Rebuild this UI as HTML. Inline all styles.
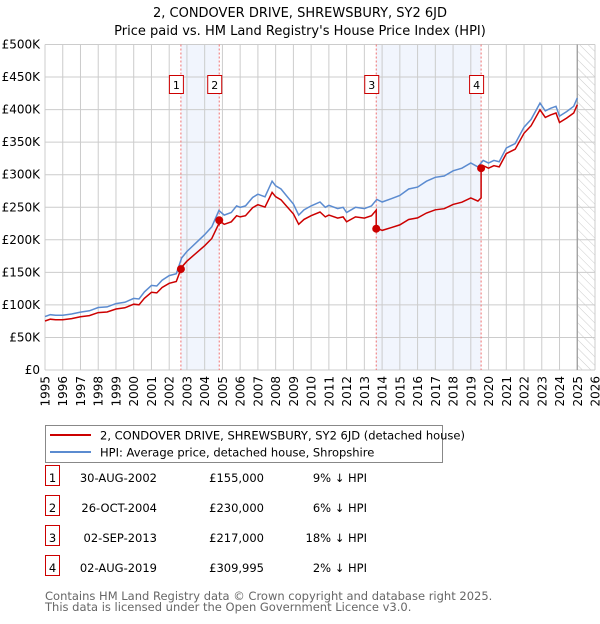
<!DOCTYPE html>
<html><head><meta charset="utf-8"><style>
body{margin:0;background:#fff;font-family:"DejaVu Sans","Liberation Sans",sans-serif;}
svg text{font-family:"DejaVu Sans","Liberation Sans",sans-serif;}
</style></head><body>
<svg id="c" width="600" height="620" viewBox="0 0 600 620" xmlns="http://www.w3.org/2000/svg">
<defs><pattern id="hatch" width="6" height="6" patternUnits="userSpaceOnUse" patternTransform="rotate(-45)"><line x1="0" y1="0" x2="0" y2="6" stroke="#ccc" stroke-width="1"/></pattern></defs>
<text x="300" y="17" text-anchor="middle" font-size="13">2, CONDOVER DRIVE, SHREWSBURY, SY2 6JD</text>
<text x="300" y="35" text-anchor="middle" font-size="13">Price paid vs. HM Land Registry's House Price Index (HPI)</text>
<g id="plot"></g>
<g>
<rect x="45.5" y="425.5" width="397" height="37" fill="#fff" stroke="#888"/>
<line x1="50" y1="435" x2="91" y2="435" stroke="#cc0000" stroke-width="2"/>
<text x="100" y="439.5" font-size="11.5">2, CONDOVER DRIVE, SHREWSBURY, SY2 6JD (detached house)</text>
<line x1="50" y1="452" x2="91" y2="452" stroke="#5b8bd0" stroke-width="2"/>
<text x="100" y="456.5" font-size="11.5">HPI: Average price, detached house, Shropshire</text>
</g>
<g id="table" font-size="11.5"></g>
<text x="45" y="600" font-size="11.5" fill="#666">Contains HM Land Registry data © Crown copyright and database right 2025.</text>
<text x="45" y="611" font-size="11.5" fill="#666">This data is licensed under the Open Government Licence v3.0.</text>
</svg>
<script>
const hpiYears=[1995,1995.3,1995.6,1996,1996.5,1997,1997.5,1998,1998.5,1999,1999.5,2000,2000.3,2000.6,2001,2001.3,2001.6,2002,2002.4,2002.7,2003,2003.5,2004,2004.4,2004.8,2005.1,2005.5,2005.8,2006,2006.3,2006.7,2007,2007.4,2007.8,2008,2008.3,2008.6,2009,2009.3,2009.6,2010,2010.5,2010.8,2011,2011.5,2011.8,2012,2012.5,2013,2013.4,2013.7,2014,2014.5,2015,2015.5,2016,2016.5,2017,2017.5,2018,2018.5,2019,2019.4,2019.7,2020,2020.3,2020.6,2021,2021.5,2022,2022.4,2022.9,2023.2,2023.5,2023.8,2024,2024.4,2024.8,2025];
const hpiValues=[82,85,84,84,86,89,91,96,97,102,104,110,109,120,130,129,138,145,148,172,182,195,208,220,245,238,242,252,250,252,265,270,266,290,283,278,268,255,238,246,252,258,250,253,248,250,242,250,248,252,262,258,263,268,278,281,290,296,298,306,310,318,312,322,318,322,320,341,348,373,385,410,398,402,405,390,397,405,418];
const saleLabels=["1","2","3","4"];
const saleYears=[2002.66,2004.82,2013.67,2019.58];
const salePrices=[155000,230000,217000,309995];
const saleDates=["30-AUG-2002","26-OCT-2004","02-SEP-2013","02-AUG-2019"];
const salePriceText=["£155,000","£230,000","£217,000","£309,995"];
const saleDiffText=["9% ↓ HPI","6% ↓ HPI","18% ↓ HPI","2% ↓ HPI"];
const yTicks=[0,50,100,150,200,250,300,350,400,450,500];
const yTickLabels=["£0","£50K","£100K","£150K","£200K","£250K","£300K","£350K","£400K","£450K","£500K"];
const xTicks=[1995,1996,1997,1998,1999,2000,2001,2002,2003,2004,2005,2006,2007,2008,2009,2010,2011,2012,2013,2014,2015,2016,2017,2018,2019,2020,2021,2022,2023,2024,2025,2026];

const X0=45,X1=595,Y0=370,Y1=44.5;
const xs=y=>X0+(y-1995)/(2026-1995)*(X1-X0);
const ys=v=>Y0-v/500*(Y0-Y1);
const NS="http://www.w3.org/2000/svg";
const plot=document.getElementById('plot');
function mk(tag,attrs,parent){const e=document.createElementNS(NS,tag);for(const k in attrs)e.setAttribute(k,attrs[k]);(parent||plot).appendChild(e);return e;}
function hpiAt(t){for(let i=1;i<hpiYears.length;i++){if(t<=hpiYears[i]){const f=(t-hpiYears[i-1])/(hpiYears[i]-hpiYears[i-1]);return hpiValues[i-1]+f*(hpiValues[i]-hpiValues[i-1]);}}return hpiValues[hpiValues.length-1];}

// shading
for(const [a,b] of [[0,1],[2,3]]){const r=mk('rect',{x:xs(saleYears[a]),y:Y1,width:xs(saleYears[b])-xs(saleYears[a]),height:Y0-Y1,fill:'#eef3fc',opacity:0.8});

}
// hatch future
const h=mk('rect',{x:xs(2025),y:Y1,width:X1-xs(2025),height:Y0-Y1,fill:'url(#hatch)'});


// grid
yTicks.forEach((v,i)=>{const l=mk('line',{x1:X0,x2:X1,y1:ys(v),y2:ys(v),stroke:'#ccc'});


const t=mk('text',{x:40,y:ys(v)+4,'text-anchor':'end','font-size':12});t.textContent=yTickLabels[i];

});
xTicks.forEach(y=>{const l=mk('line',{x1:xs(y),x2:xs(y),y1:Y1,y2:Y0,stroke:'#ccc'});


const t=mk('text',{x:0,y:0,'text-anchor':'end','font-size':12,transform:`translate(${xs(y)+4.5},376) rotate(-90)`});t.textContent=y;

});
const nl=mk('line',{x1:xs(2025),x2:xs(2025),y1:Y1,y2:Y0,stroke:'#999','stroke-width':1.2});


// sale vlines
saleYears.forEach((s,i)=>{const l=mk('line',{x1:xs(s),x2:xs(s),y1:Y1,y2:Y0,stroke:'#f07070','stroke-dasharray':'2,2'});


const r=mk('rect',{x:xs(s)-11.5,y:75.5,width:14,height:18,fill:'#fff',stroke:'#cc0000'});


const t=mk('text',{x:xs(s)-4.5,y:89,'text-anchor':'middle','font-size':11});t.textContent=saleLabels[i];

});
// hpi line
let d='';hpiYears.forEach((y,i)=>{d+=(i?'L':'M')+xs(y).toFixed(1)+','+ys(hpiValues[i]).toFixed(1);});
const hp=mk('path',{d:d,fill:'none',stroke:'#5b8bd0','stroke-width':1.5});


// price paid line (indexed from each sale)
function seg(i){return salePrices[i]/1000/hpiAt(saleYears[i]);}
let pd='';const pts=[];
hpiYears.forEach((y,i)=>{let k=0;for(let j=0;j<saleYears.length;j++)if(y>=saleYears[j])k=j;pts.push([y,hpiValues[i]*seg(k)]);});
saleYears.forEach((s,i)=>{if(i>0)pts.push([s-0.001,hpiAt(s)*seg(i-1)]);pts.push([s,salePrices[i]/1000]);});
pts.sort((a,b)=>a[0]-b[0]);
pts.forEach((p,i)=>{pd+=(i?'L':'M')+xs(p[0]).toFixed(1)+','+ys(p[1]).toFixed(1);});
const pp=mk('path',{d:pd,fill:'none',stroke:'#cc0000','stroke-width':1.5});


saleYears.forEach((s,i)=>{const c=mk('circle',{cx:xs(s),cy:ys(salePrices[i]/1000),r:4,fill:'#cc0000'});

});
// table
const tb=document.getElementById('table');
saleLabels.forEach((l,i)=>{const y=483+i*30;
const r=mk('rect',{x:45.5,y:y-17.5,width:14,height:20,fill:'#fff',stroke:'#cc0000'},tb);


const cells=[[52.5,l,'middle'],[157,saleDates[i],'end'],[264,salePriceText[i],'end'],[367,saleDiffText[i],'end']];
cells.forEach(c=>{const t=mk('text',{x:c[0],y:y-1,'text-anchor':c[2]},tb);t.textContent=c[1];

});});
</script>
</body></html>
